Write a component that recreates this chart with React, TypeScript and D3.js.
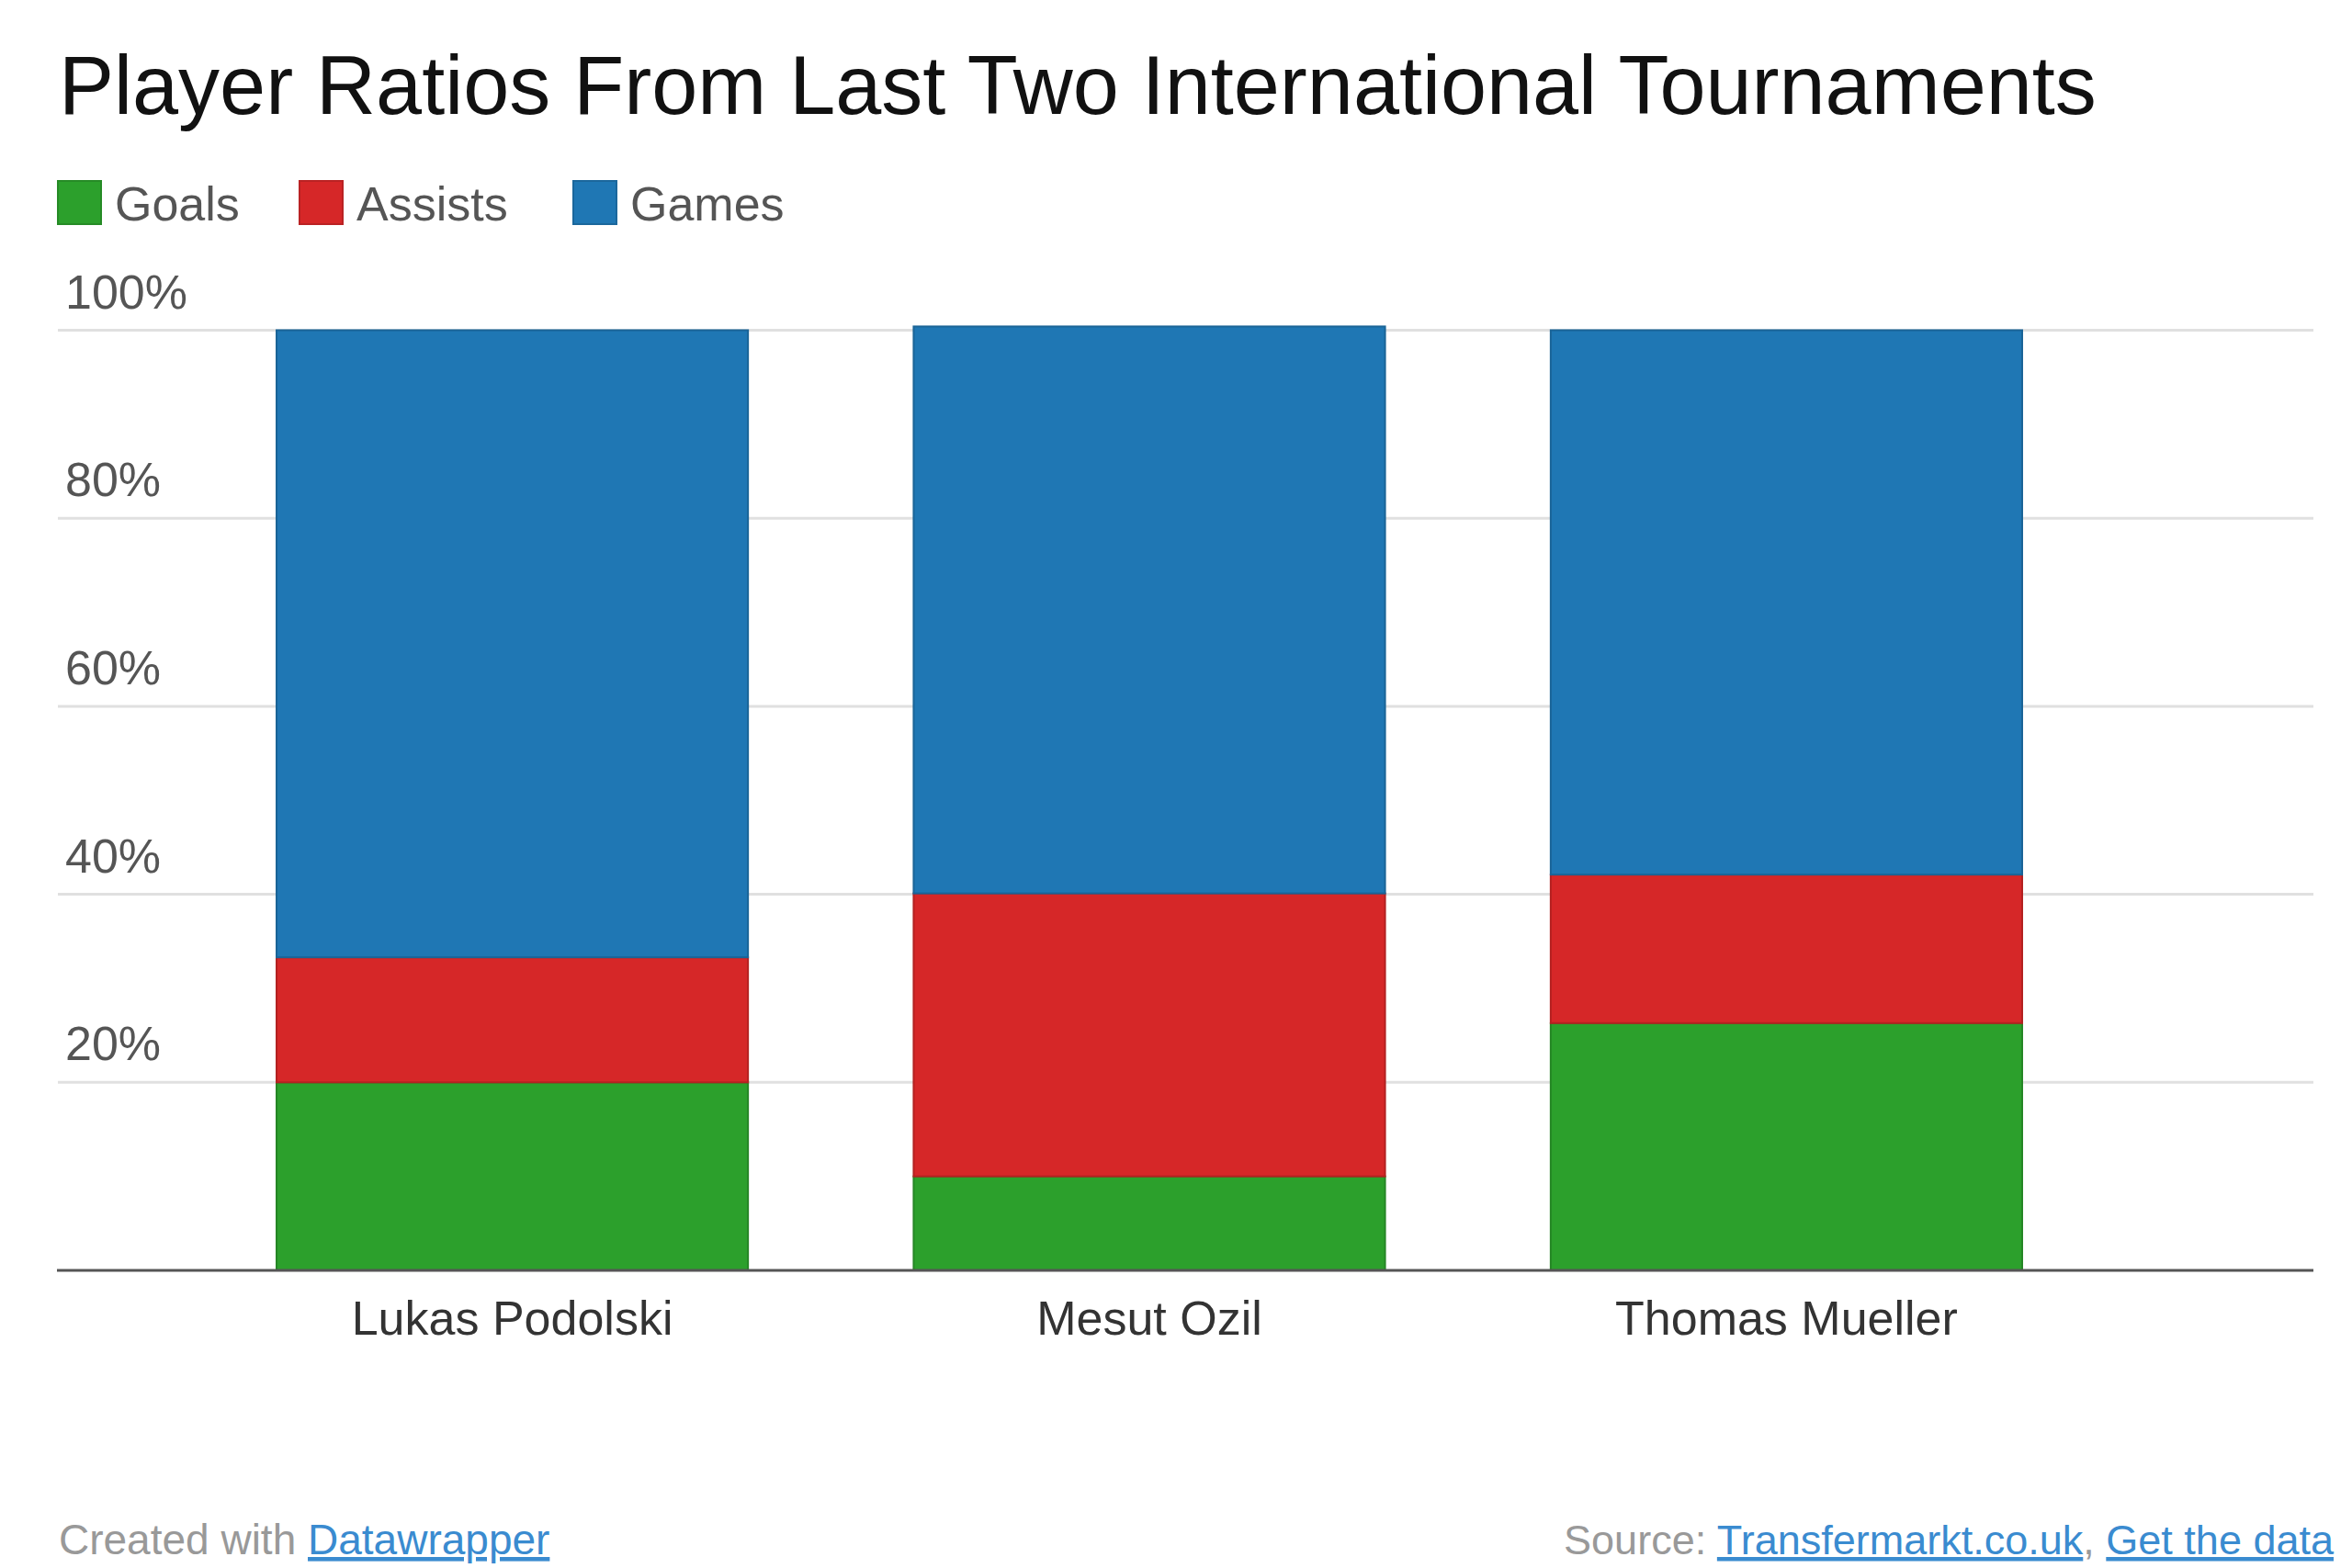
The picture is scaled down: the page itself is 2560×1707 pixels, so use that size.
import { useEffect, useRef } from "react";
import * as d3 from "d3";

const players = ["Lukas Podolski", "Mesut Ozil", "Thomas Mueller"];
const goals = [20.0, 10.0, 26.3];
const assists = [13.3, 30.1, 15.8];
const games = [66.7, 60.3, 57.9];

const seriesKeys = ["Goals", "Assists", "Games"];
const seriesColors = ["#2ca02c", "#d62728", "#1f77b4"];
const yTicks = [20, 40, 60, 80, 100];

const FONT = "'Liberation Sans', Arial, Helvetica, sans-serif";

export default function App() {
  const svgRef = useRef<SVGSVGElement | null>(null);

  useEffect(() => {
    if (!svgRef.current) return;
    const svg = d3.select(svgRef.current);
    svg.selectAll("*").remove();

    const width = 2560;
    const height = 1707;
    svg.attr("width", width).attr("height", height).style("font-family", FONT);

    svg.append("rect").attr("width", width).attr("height", height).attr("fill", "#fff");

    // Title
    svg
      .append("text")
      .attr("x", 64)
      .attr("y", 124)
      .attr("fill", "#111")
      .style("font-size", "90px")
      .text("Player Ratios From Last Two International Tournaments");

    // Legend
    const legendX = [63, 326, 624];
    const legend = svg
      .append("g")
      .selectAll("g")
      .data(seriesKeys)
      .enter()
      .append("g")
      .attr("transform", (_, i) => `translate(${legendX[i]}, 197)`);
    legend
      .append("rect")
      .attr("width", 47)
      .attr("height", 47)
      .attr("fill", (_, i) => seriesColors[i])
      .attr("stroke", (_, i) => d3.color(seriesColors[i])!.darker(0.4).toString())
      .attr("stroke-width", 2);
    legend
      .append("text")
      .attr("x", 62)
      .attr("y", 43)
      .attr("fill", "#555")
      .style("font-size", "52px")
      .text((d) => d);

    // Scales
    const xScale = d3.scaleBand<string>().domain(players).range([301, 2201]).paddingInner(0.26).paddingOuter(0);
    const yScale = d3.scaleLinear().domain([0, 100]).range([1383, 359.5]);

    // Grid lines + y labels
    const grid = svg.append("g");
    grid
      .selectAll("line")
      .data(yTicks)
      .enter()
      .append("line")
      .attr("x1", 63)
      .attr("x2", 2518)
      .attr("y1", (d) => yScale(d))
      .attr("y2", (d) => yScale(d))
      .attr("stroke", "#e0e0e0")
      .attr("stroke-width", 3);
    grid
      .selectAll("text")
      .data(yTicks)
      .enter()
      .append("text")
      .attr("x", 71)
      .attr("y", (d) => yScale(d) - 24)
      .attr("fill", "#555")
      .style("font-size", "52px")
      .text((d) => `${d}%`);

    // Stacked bars
    const rows = players.map((p, i) => ({ player: p, Goals: goals[i], Assists: assists[i], Games: games[i] }));
    const stacked = d3.stack<any>().keys(seriesKeys)(rows);

    svg
      .append("g")
      .selectAll("g")
      .data(stacked)
      .enter()
      .append("g")
      .attr("fill", (_, i) => seriesColors[i])
      .attr("stroke", (_, i) => d3.color(seriesColors[i])!.darker(0.5).toString())
      .attr("stroke-width", 2)
      .selectAll("rect")
      .data((d) => d)
      .enter()
      .append("rect")
      .attr("x", (d) => xScale(d.data.player)!)
      .attr("width", xScale.bandwidth())
      .attr("y", (d) => yScale(d[1]))
      .attr("height", (d) => yScale(d[0]) - yScale(d[1]));

    // Baseline
    svg
      .append("line")
      .attr("x1", 62)
      .attr("x2", 2518)
      .attr("y1", yScale(0))
      .attr("y2", yScale(0))
      .attr("stroke", "#555")
      .attr("stroke-width", 3);

    // X labels
    svg
      .append("g")
      .selectAll("text")
      .data(players)
      .enter()
      .append("text")
      .attr("x", (d) => xScale(d)! + xScale.bandwidth() / 2)
      .attr("y", 1453)
      .attr("text-anchor", "middle")
      .attr("fill", "#333")
      .style("font-size", "52px")
      .text((d) => d);

    // Footer
    const linkColor = "#3a8bd0";
    const left = svg
      .append("text")
      .attr("x", 64)
      .attr("y", 1692)
      .attr("fill", "#999")
      .style("font-size", "46px");
    left.append("tspan").text("Created with ");
    left.append("tspan").attr("fill", linkColor).attr("text-decoration", "underline").text("Datawrapper");

    const right = svg
      .append("text")
      .attr("x", 2540)
      .attr("y", 1692)
      .attr("text-anchor", "end")
      .attr("fill", "#999")
      .style("font-size", "45px");
    right.append("tspan").text("Source: ");
    right.append("tspan").attr("fill", linkColor).attr("text-decoration", "underline").text("Transfermarkt.co.uk");
    right.append("tspan").text(", ");
    right.append("tspan").attr("fill", linkColor).attr("text-decoration", "underline").text("Get the data");
  }, []);

  return <svg ref={svgRef} style={{ position: "absolute", left: 0, top: 0, display: "block" }}></svg>;
}
